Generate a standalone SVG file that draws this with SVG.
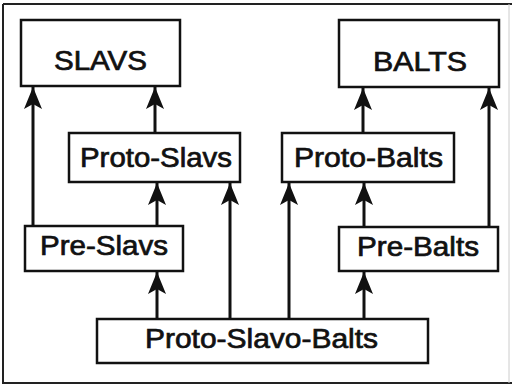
<svg xmlns="http://www.w3.org/2000/svg" width="512" height="386" viewBox="0 0 512 386">
<defs>
<style>
.box{fill:#fff;stroke:#111;stroke-width:2.5}
.lbl{font-family:"Liberation Sans",Arial,sans-serif;font-size:27px;fill:#111;stroke:#111;stroke-width:0.7;text-anchor:middle}
.con{stroke:#111;stroke-width:3;fill:none}
</style>
<marker id="ah" markerUnits="userSpaceOnUse" markerWidth="24" markerHeight="30" refX="22" refY="9" orient="auto" viewBox="0 0 24 18">
<path d="M0,0 L22,9 L0,18 L5,9 Z" fill="#111"/>
</marker>
</defs>
<rect x="0" y="0" width="512" height="386" fill="#fff"/>
<path d="M3,4 H512 M3,4 V383 H512" stroke="#222" stroke-width="2" fill="none"/>
<line x1="509" y1="4" x2="509" y2="383" stroke="#ccc" stroke-width="1"/>
<g id="connectors">
<line class="con" x1="33" y1="226" x2="33" y2="87" marker-end="url(#ah)"/>
<line class="con" x1="155" y1="133" x2="155" y2="87" marker-end="url(#ah)"/>
<line class="con" x1="157" y1="226" x2="157" y2="183" marker-end="url(#ah)"/>
<line class="con" x1="230" y1="319" x2="230" y2="183" marker-end="url(#ah)"/>
<line class="con" x1="157" y1="319" x2="157" y2="272" marker-end="url(#ah)"/>
<line class="con" x1="289" y1="319" x2="289" y2="183" marker-end="url(#ah)"/>
<line class="con" x1="364" y1="319" x2="364" y2="272" marker-end="url(#ah)"/>
<line class="con" x1="364" y1="227" x2="364" y2="183" marker-end="url(#ah)"/>
<line class="con" x1="363" y1="133" x2="363" y2="88" marker-end="url(#ah)"/>
<line class="con" x1="489" y1="227" x2="489" y2="88" marker-end="url(#ah)"/>
</g>
<g id="slavs">
<rect class="box" x="21" y="20" width="159" height="66"/>
<text class="lbl" x="100.5" y="70" textLength="93" lengthAdjust="spacingAndGlyphs">SLAVS</text>
</g>
<g id="balts">
<rect class="box" x="339" y="20" width="160" height="67"/>
<text class="lbl" x="420" y="71" textLength="94" lengthAdjust="spacingAndGlyphs">BALTS</text>
</g>
<g id="proto-slavs">
<rect class="box" x="69" y="133" width="171" height="49"/>
<text class="lbl" x="156" y="167" textLength="152" lengthAdjust="spacingAndGlyphs">Proto-Slavs</text>
</g>
<g id="proto-balts">
<rect class="box" x="282" y="133" width="172" height="49"/>
<text class="lbl" x="368.5" y="167" textLength="149" lengthAdjust="spacingAndGlyphs">Proto-Balts</text>
</g>
<g id="pre-slavs">
<rect class="box" x="25" y="226" width="158" height="45"/>
<text class="lbl" x="104" y="255" textLength="128" lengthAdjust="spacingAndGlyphs">Pre-Slavs</text>
</g>
<g id="pre-balts">
<rect class="box" x="339" y="227" width="159" height="44"/>
<text class="lbl" x="418" y="256" textLength="122" lengthAdjust="spacingAndGlyphs">Pre-Balts</text>
</g>
<g id="proto-slavo-balts">
<rect class="box" x="97" y="319" width="331" height="44"/>
<text class="lbl" x="261.5" y="348" textLength="233" lengthAdjust="spacingAndGlyphs">Proto-Slavo-Balts</text>
</g>
</svg>
